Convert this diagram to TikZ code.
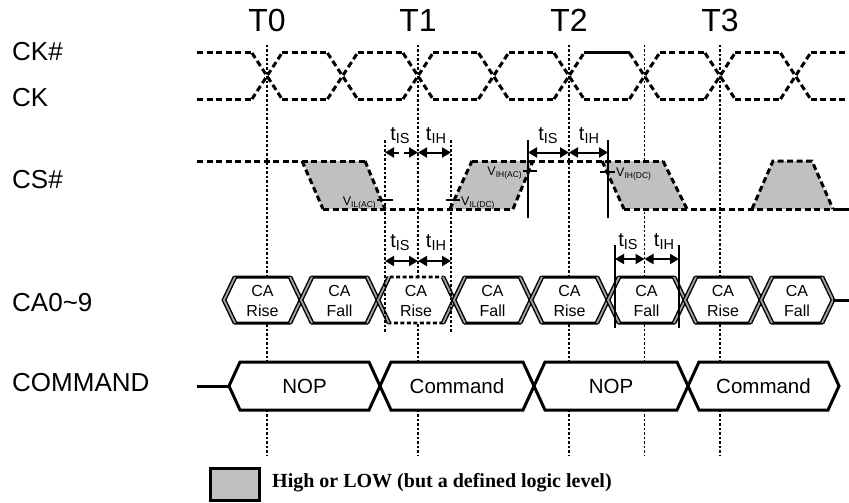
\documentclass[tikz,border=0pt]{standalone}
\usepackage{fontspec}
\setmainfont{Liberation Sans}
\newfontfamily\legendfont{Liberation Serif}
\usetikzlibrary{arrows.meta}
\definecolor{ltgray}{RGB}{192,192,192}
\definecolor{cagray}{RGB}{160,160,160}
\tikzset{
 sig/.style={line width=3pt, dash pattern=on 6pt off 3.5pt},
 solidsig/.style={line width=3pt},
 tline/.style={line width=1.3pt, dash pattern=on 2.5pt off 2pt},
 busbox/.style={line width=3pt, fill=white, line join=miter},
 dashbox/.style={line width=2.6pt, fill=white, line join=miter, dash pattern=on 4pt off 2.5pt},
 dbl/.style={line width=1.4pt, double=cagray, double distance=1.8pt, line join=miter},
 rowlbl/.style={font=\fontsize{26}{28}\selectfont, anchor=west, inner sep=0},
 tlbl/.style={font=\fontsize{32}{34}\selectfont, inner sep=0},
 meas/.style={line width=1.5pt},
 tick/.style={line width=1.5pt},
 dimarrow/.style={line width=2pt, {Triangle[length=9pt,width=10pt]}-{Triangle[length=9pt,width=10pt]}},
 tparam/.style={font=\fontsize{20}{20}\selectfont, inner sep=0, anchor=base},
 vlab/.style={font=\fontsize{12.5}{13}\selectfont, inner sep=0},
 celltext/.style={font=\fontsize{16}{20}\selectfont, align=center, inner sep=0},
 cmdtext/.style={font=\fontsize{20.5}{22}\selectfont, inner sep=0},
}
\newcommand\lowsub[1]{\raisebox{-3.5pt}{\fontsize{14.5}{14.5}\selectfont #1}}
\newcommand\vsub[1]{\raisebox{-2.5pt}{\fontsize{8.5}{8.5}\selectfont #1}}
\begin{document}
\begin{tikzpicture}[x=1pt,y=-1pt]
\useasboundingbox (0,0) rectangle (849,503);

% timing reference lines
\foreach \x in {267,418,569,644.5,720} \draw[tline] (\x,45) -- (\x,455);

% T labels
\node[tlbl] (T0) at (267,20) {T0};
\node[tlbl] (T1) at (418,20) {T1};
\node[tlbl] (T2) at (569,20) {T2};
\node[tlbl] (T3) at (720,20) {T3};

% row labels
\node[rowlbl] (lckn) at (12,52) {CK\#};
\node[rowlbl] (lck) at (12,98) {CK};
\node[rowlbl] (lcs) at (12,180) {CS\#};
\node[rowlbl] (lca) at (12,303) {CA0\textasciitilde 9};
\node[rowlbl] (lcmd) at (12,383) {COMMAND};

% clocks
\foreach \k in {0,...,7} {
  \pgfmathsetmacro\c{267+75.5*\k}
  \draw[sig] (\c-15,53) -- (\c+15,99);
  \draw[sig] (\c-15,99) -- (\c+15,53);
}
\draw[sig] (197,53) -- (252,53);
\draw[sig] (197,99) -- (252,99);
\foreach \k in {0,...,6} {
  \pgfmathsetmacro\a{267+75.5*\k+15}
  \pgfmathsetmacro\b{267+75.5*\k+75.5-15}
  \draw[sig] (\a,99) -- (\b,99);
  \ifnum\k=4 \draw[solidsig] (\a,53) -- (\b,53); \else \draw[sig] (\a,53) -- (\b,53); \fi
}
\draw[sig] (810.5,53) -- (846,53);
\draw[sig] (810.5,99) -- (846,99);

% CS#
\fill[ltgray] (302,161) -- (365,161) -- (385,209) -- (323,209) -- cycle;
\fill[ltgray] (450,209) -- (513,209) -- (533,161) -- (472,161) -- cycle;
\fill[ltgray] (602,161) -- (663,161) -- (687,209) -- (624,209) -- cycle;
\fill[ltgray] (752,209) -- (773,161) -- (812,161) -- (833,209) -- cycle;
\draw[sig] (197,161) -- (365,161);
\draw[sig] (302,161) -- (323,209);
\draw[sig] (365,161) -- (385,209);
\draw[sig] (323,209) -- (513,209);
\draw[sig] (450,209) -- (472,161);
\draw[sig] (513,209) -- (533,161);
\draw[sig] (472,161) -- (663,161);
\draw[sig] (602,161) -- (624,209);
\draw[sig] (663,161) -- (687,209);
\draw[sig] (624,209) -- (833,209);
\draw[sig] (752,209) -- (773,161) -- (812,161) -- (833,209);
\draw[solidsig] (833,209) -- (849,209);

% level ticks and labels
\draw[tick] (377,200) -- (393,200);
\draw[tick] (446,200) -- (460,200);
\draw[tick] (523,171) -- (537,171);
\draw[tick] (600,172) -- (615,172);
\node[vlab, anchor=base east] (vilac) at (376,205) {V\vsub{IL(AC)}};
\node[vlab, anchor=base west] (vildc) at (461,205) {V\vsub{IL(DC)}};
\node[vlab, anchor=base east] (vihac) at (522,175) {V\vsub{IH(AC)}};
\node[vlab, anchor=base west] (vihdc) at (616,176) {V\vsub{IH(DC)}};

% CA bus
\foreach \l/\r/\t [count=\i] in {224/301/Rise,301/378/Fall,378/454/Rise,454/531/Fall,531/608/Rise,608/685/Fall,685/761/Rise,761/833/Fall} {
  \ifnum\i=3
    \draw[dashbox] (\l,300) -- (\l+11,277) -- (\r-11,277) -- (\r,300) -- (\r-11,323) -- (\l+11,323) -- cycle;
  \else
    \draw[busbox] (\l,300) -- (\l+11,277) -- (\r-11,277) -- (\r,300) -- (\r-11,323) -- (\l+11,323) -- cycle;
  \fi
  \draw[dbl] (\l+11,277) -- (\l,300) -- (\l+11,323);
  \draw[dbl] (\r-11,277) -- (\r,300) -- (\r-11,323);
  \node[celltext] (ca\i) at ({(\l+\r)/2},301) {CA\\\t};
}
\draw[solidsig] (833,300) -- (849,300);

% COMMAND bus
\draw[solidsig] (197,386) -- (229,386);
\foreach \l/\r/\t [count=\i] in {229/380/NOP,380/534/Command,534/688/NOP,688/839/Command} {
  \draw[busbox] (\l,386) -- (\l+11,362) -- (\r-11,362) -- (\r,386) -- (\r-11,410) -- (\l+11,410) -- cycle;
  \node[cmdtext] (cmd\i) at ({(\l+\r)/2},386) {\t};
}

% measurement lines
\draw[tline] (385,140) -- (385,333);
\draw[tline] (451,140) -- (451,333);
\draw[meas] (528,140) -- (528,218);
\draw[meas] (608,140) -- (608,218);
\draw[meas] (615,245) -- (615,328);
\draw[meas] (679,245) -- (679,328);

% measurement arrows
\coordinate (a1) at (385,152.5);
\coordinate (a2) at (418,152.5);
\coordinate (a3) at (451,152.5);
\coordinate (b1) at (528,152.5);
\coordinate (b2) at (569,152.5);
\coordinate (b3) at (608,152.5);
\coordinate (c1) at (385,261);
\coordinate (c2) at (418,261);
\coordinate (c3) at (451,261);
\coordinate (d1) at (615,259);
\coordinate (d2) at (644.5,259);
\coordinate (d3) at (679,259);
\draw[dimarrow, dash pattern=on 5pt off 5pt] (a1) -- (a2);
\draw[dimarrow] (a2) -- (a3);
\draw[dimarrow] (b1) -- (b2);
\draw[dimarrow] (b2) -- (b3);
\draw[dimarrow] (c1) -- (c2);
\draw[dimarrow] (c2) -- (c3);
\draw[dimarrow] (d1) -- (d2);
\draw[dimarrow] (d2) -- (d3);

\node[tparam] (tis1) at (400,140) {t\lowsub{IS}};
\node[tparam] (tih1) at (436,140) {t\lowsub{IH}};
\node[tparam] (tis2) at (548,140) {t\lowsub{IS}};
\node[tparam] (tih2) at (589,140) {t\lowsub{IH}};
\node[tparam] (tis3) at (400,247) {t\lowsub{IS}};
\node[tparam] (tih3) at (436,247) {t\lowsub{IH}};
\node[tparam] (tis4) at (628,246) {t\lowsub{IS}};
\node[tparam] (tih4) at (664,246) {t\lowsub{IH}};

% legend
\draw[line width=3pt, fill=ltgray] (210,468) rectangle (259,500);
\node[anchor=west, inner sep=0, font=\legendfont\bfseries\fontsize{20}{22}\selectfont] (leg) at (272,483) {High or LOW (but a defined logic level)};
\end{tikzpicture}
\end{document}
